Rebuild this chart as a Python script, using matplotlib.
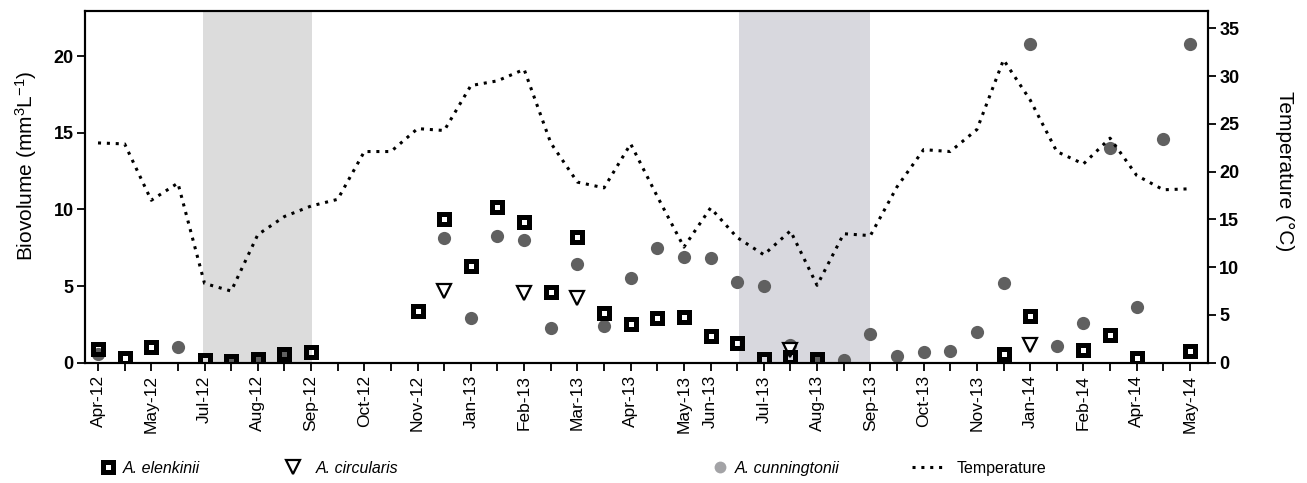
import matplotlib
matplotlib.use("Agg")
import matplotlib.pyplot as plt
from matplotlib.lines import Line2D
import numpy as np

plt.rcParams['font.family'] = ['Liberation Sans', 'DejaVu Sans']
plt.rcParams['mathtext.fontset'] = 'custom'
plt.rcParams['mathtext.rm'] = 'Liberation Sans'
plt.rcParams['mathtext.default'] = 'regular'

# sampling index (42 sampling dates, equally spaced on the axis)
n_samples = 42
tick_labels = {0: "Apr-12", 2: "May-12", 4: "Jul-12", 6: "Aug-12", 8: "Sep-12",
               10: "Oct-12", 12: "Nov-12", 14: "Jan-13", 16: "Feb-13", 18: "Mar-13",
               20: "Apr-13", 22: "May-13", 23: "Jun-13", 25: "Jul-13", 27: "Aug-13",
               29: "Sep-13", 31: "Oct-13", 33: "Nov-13", 35: "Jan-14", 37: "Feb-14",
               39: "Apr-14", 41: "May-14"}

temperature = [23.0, 22.9, 17.0, 18.8, 8.3, 7.5, 13.4, 15.3, 16.4, 17.1,
               22.1, 22.1, 24.5, 24.3, 29.0, 29.5, 30.7, 23.0, 18.9, 18.3,
               22.9, 17.4, 12.1, 16.2, 13.1, 11.3, 13.8, 8.1, 13.5, 13.3,
               18.4, 22.3, 22.1, 24.4, 31.7, 27.5, 22.1, 20.8, 23.5, 19.6,
               18.1, 18.2]

elenkinii_idx = [0, 1, 2, 4, 5, 6, 7, 8, 12, 13, 14, 15, 16, 17, 18, 19, 20, 21,
                 22, 23, 24, 25, 26, 27, 34, 35, 37, 38, 39, 41]
elenkinii = [0.87, 0.33, 1.0, 0.18, 0.13, 0.24, 0.57, 0.72, 3.4, 9.35, 6.33, 10.14,
             9.16, 4.59, 8.22, 3.22, 2.52, 2.9, 2.96, 1.74, 1.26, 0.22, 0.35, 0.22,
             0.57, 3.05, 0.83, 1.81, 0.33, 0.76]

circularis_idx = [13, 16, 18, 26, 35]
circularis = [4.7, 4.57, 4.2, 0.83, 1.15]

cunningtonii_idx = [0, 3, 5, 6, 7, 13, 14, 15, 16, 17, 18, 19, 20, 21, 22, 23, 24,
                    25, 26, 27, 28, 29, 30, 31, 32, 33, 34, 35, 36, 37, 38, 39, 40, 41]
cunningtonii = [0.57, 1.0, 0.13, 0.24, 0.57, 8.15, 2.9, 8.26, 8.0, 2.28, 6.42, 2.39,
                5.55, 7.46, 6.87, 6.85, 5.24, 5.0, 1.15, 0.22, 0.18, 1.85, 0.44, 0.72,
                0.78, 1.98, 5.22, 20.83, 1.09, 2.57, 13.99, 3.61, 14.57, 20.83]

# shaded periods (in sample-index units)
shade_periods = [(3.95, 8.05, "#dcdcdc"), (24.05, 29.0, "#d8d8de")]

sq_style = dict(marker="s", mfc="none", mec="black", ms=6.8, mew=3.6)
tri_style = dict(marker="v", mfc="white", mec="black", ms=9.5, mew=1.6)
dot_line = dict(color="black", lw=2.2, linestyle=(0, (1, 1.9)))

fig = plt.figure(figsize=(13.07, 4.83), dpi=100)
ax = fig.add_axes([0.065, 0.249, 0.8593, 0.7281])
ax2 = ax.twinx()

for x0, x1, c in shade_periods:
    ax.axvspan(x0, x1, color=c, lw=0, zorder=0)

ax.plot(cunningtonii_idx, cunningtonii, "o", color="#606060", ms=9.5, mew=0, zorder=2)
ax.plot(circularis_idx, circularis, ls="none", zorder=3, **tri_style)
ax.plot(elenkinii_idx, elenkinii, ls="none", zorder=4, **sq_style)

ax2.plot(np.arange(n_samples), temperature, **dot_line)

ax.set_xlim(-0.49, 41.68)
ax.set_ylim(0, 22.95)
ax2.set_ylim(0, 36.8)

ax.set_xticks(np.arange(n_samples))
ax.set_xticklabels([tick_labels.get(i, "") for i in range(n_samples)],
                   rotation=90, fontsize=12.5)
ax.set_yticks([0, 5, 10, 15, 20])
ax2.set_yticks(range(0, 36, 5))

for a in (ax, ax2):
    for s in a.spines.values():
        s.set_linewidth(1.5)
    a.tick_params(axis="y", length=6, width=1.3, labelsize=13, pad=2)
    for t in a.get_yticklabels():
        t.set_fontweight("bold")
ax.tick_params(axis="x", length=6, width=1.3, pad=3)

ax.set_ylabel("Biovolume (mm$^{3}$L$^{-1}$)", fontsize=15)
ax.yaxis.set_label_coords(-0.041, 0.56)
ax2.set_ylabel("Temperature (°C)", fontsize=15, rotation=270)
ax2.yaxis.set_label_coords(1.077, 0.545)

# legend, one entry at a time along the bottom
handles = [
    Line2D([], [], ls="none", **sq_style),
    Line2D([], [], ls="none", **tri_style),
    Line2D([], [], ls="none", marker="o", color="#a3a3a6", ms=8.5, mew=0),
    Line2D([], [], **dot_line),
]
names = ["A. elenkinii", "A. circularis", "A. cunningtonii", "Temperature"]
styles = ["italic", "italic", "italic", "normal"]
anchors = [100 / 1307, 285 / 1307, 712 / 1307, 912 / 1307]
hlen = [1.0, 1.0, 1.0, 2.2]
hpad = [0.45, 0.95, 0.45, 0.6]
for h, name, st, xa, hl, hp in zip(handles, names, styles, anchors, hlen, hpad):
    fig.legend([h], [name], loc="center left", bbox_to_anchor=(xa, 0.031),
               frameon=False, borderpad=0, borderaxespad=0, handlelength=hl,
               handletextpad=hp, prop={"size": 11.5, "style": st})

fig.savefig("out.png", dpi=100)
